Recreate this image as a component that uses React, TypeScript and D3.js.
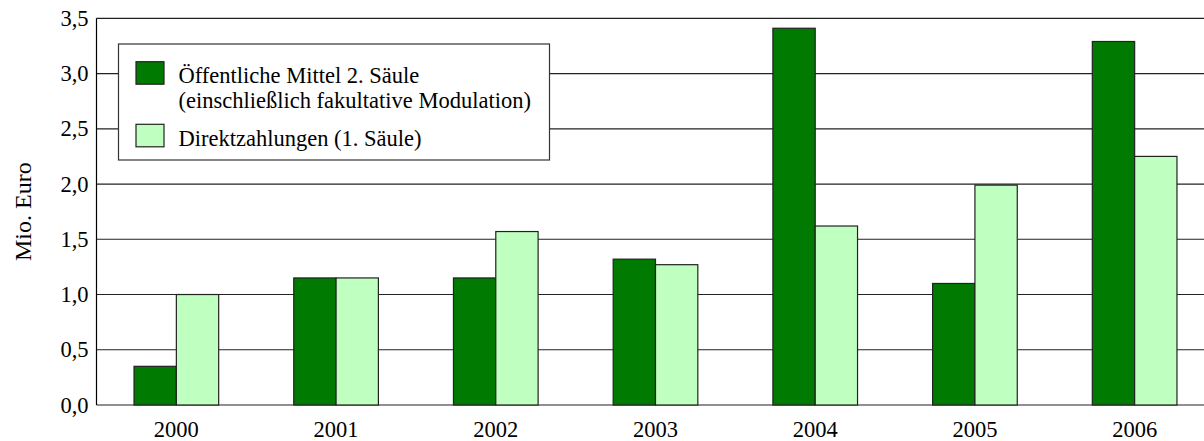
import { scaleBand, scaleLinear, range } from 'd3'

const years = ['2000', '2001', '2002', '2003', '2004', '2005', '2006']
const seriesKeys = ['saeule2', 'direkt']
const seriesLabels = [
  ['Öffentliche Mittel 2. Säule', '(einschließlich fakultative Modulation)'],
  ['Direktzahlungen (1. Säule)'],
]
const saeule2Values = [0.35, 1.15, 1.15, 1.32, 3.41, 1.1, 3.29]
const direktValues = [1.0, 1.15, 1.57, 1.27, 1.62, 1.99, 2.25]
const yTicks = [0, 0.5, 1, 1.5, 2, 2.5, 3, 3.5]

const WIDTH = 1204
const HEIGHT = 441
const MARGINS = { top: 18.3, left: 96.5, bottom: 36 }
const PLOT_RIGHT = 1214.5
const FONT = "'Liberation Serif', 'Times New Roman', Times, serif"
const COLORS = ['#007a00', '#bfffbf']

export default function App() {
  const x0 = scaleBand<string>()
    .domain(years)
    .range([MARGINS.left, PLOT_RIGHT])
    .paddingInner(0.47)
    .paddingOuter(0.235)
  const x1 = scaleBand<string>().domain(seriesKeys).range([0, x0.bandwidth()])
  const y = scaleLinear()
    .domain([0, 3.5])
    .range([HEIGHT - MARGINS.bottom, MARGINS.top])

  const valuesBySeries = [saeule2Values, direktValues]
  const textStyle = { fontFamily: FONT }

  return (
    <svg
      width={WIDTH}
      height={HEIGHT}
      style={{ position: 'absolute', left: 0, top: 0, display: 'block', background: '#fff' }}
    >
      {/* grid */}
      {yTicks.map((t) => (
        <line
          key={`g${t}`}
          x1={MARGINS.left}
          x2={PLOT_RIGHT}
          y1={y(t)}
          y2={y(t)}
          stroke="#222"
          strokeWidth={1.2}
        />
      ))}
      <line
        x1={MARGINS.left}
        x2={MARGINS.left}
        y1={y(3.5)}
        y2={y(0)}
        stroke="#000"
        strokeWidth={1.2}
      />

      {/* y tick labels */}
      {yTicks.map((t) => (
        <text
          key={`t${t}`}
          x={88.5}
          y={y(t) + 7.5}
          textAnchor="end"
          fontSize={22.5}
          fill="#000"
          style={textStyle}
        >
          {t.toFixed(1).replace('.', ',')}
        </text>
      ))}

      <text
        transform={`translate(31, ${(y(0) + y(3.5)) / 2}) rotate(-90)`}
        textAnchor="middle"
        fontSize={24}
        fill="#000"
        style={textStyle}
      >
        Mio. Euro
      </text>

      {/* bars */}
      {years.map((year, i) => (
        <g key={year} transform={`translate(${x0(year)},0)`}>
          {seriesKeys.map((key, s) => {
            const v = valuesBySeries[s][i]
            return (
              <rect
                key={key}
                x={x1(key)}
                y={y(v)}
                width={x1.bandwidth()}
                height={y(0) - y(v)}
                fill={COLORS[s]}
                stroke="#222"
                strokeWidth={1.2}
              />
            )
          })}
        </g>
      ))}

      {/* x labels */}
      {years.map((year) => (
        <text
          key={`x${year}`}
          x={(x0(year) ?? 0) + x0.bandwidth() / 2}
          y={437}
          textAnchor="middle"
          fontSize={22.5}
          fill="#000"
          style={textStyle}
        >
          {year}
        </text>
      ))}

      {/* legend */}
      <g transform="translate(118.5, 44)">
        <rect x={0} y={0} width={431} height={116} fill="#fff" stroke="#333" strokeWidth={1.2} />
        {range(seriesKeys.length).map((s) => {
          const top = s === 0 ? 17.7 : 80.3
          return (
            <g key={seriesKeys[s]}>
              <rect
                x={17.5}
                y={top}
                width={28}
                height={22.5}
                fill={COLORS[s]}
                stroke="#222"
                strokeWidth={1.2}
              />
              {seriesLabels[s].map((line, li) => (
                <text
                  key={li}
                  x={60}
                  y={top + 21.5 + li * 24.7}
                  fontSize={22.5}
                  fill="#000"
                  style={textStyle}
                >
                  {line}
                </text>
              ))}
            </g>
          )
        })}
      </g>
    </svg>
  )
}
